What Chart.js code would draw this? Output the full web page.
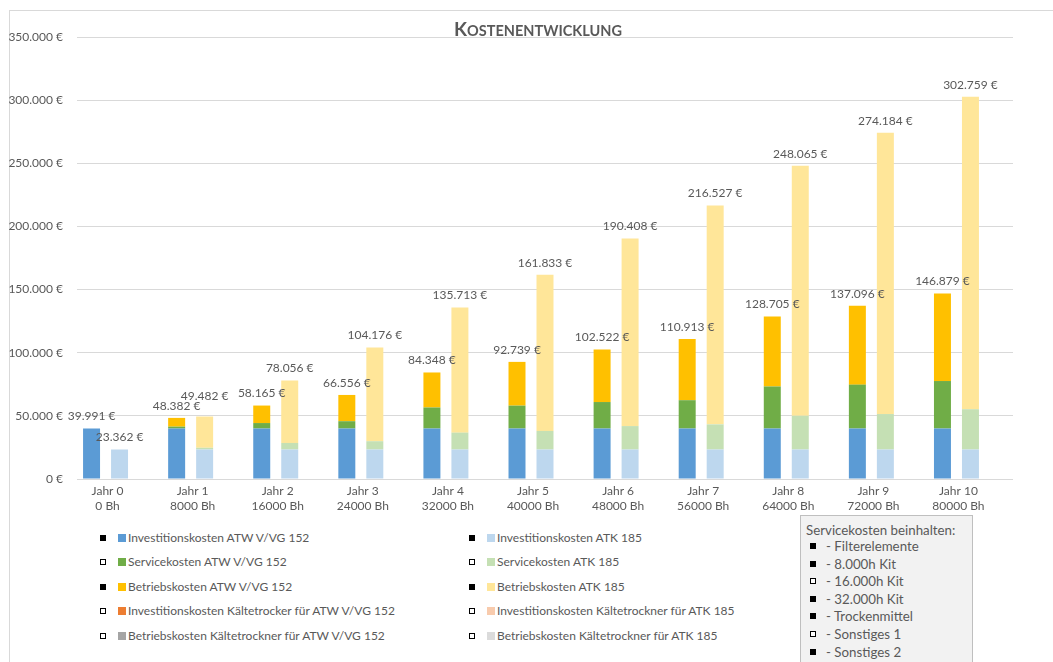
<!DOCTYPE html>
<html lang="de">
<head>
<meta charset="utf-8">
<title>Kostenentwicklung</title>
<script src="https://cdn.jsdelivr.net/npm/chart.js@4.4.1/dist/chart.umd.min.js"></script>
<style>
  body { margin: 0; background: #fff; font-family: Lato, 'Noto Sans', sans-serif; color: #595959; }
  #page { position: relative; width: 1053px; height: 662px; overflow: hidden; }
  #frame { position: absolute; left: 9px; top: 10px; width: 1060px; height: 670px; border-left: 1px solid #d9d9d9; border-top: 1px solid #d9d9d9; }
  #chartBox { position: absolute; left: 0; top: 0; width: 1053px; height: 522px; }
  .item { position: absolute; height: 18px; line-height: 18px; white-space: nowrap; font-size: 12px; }
  .glyph { position: absolute; top: 6px; width: 4px; height: 4px; border: 1px solid #000; background: #fff; }
  .glyph.fill { background: #000; box-shadow: inset 0 0 0 1px #000; }
  .swatch { position: absolute; top: 5px; width: 8px; height: 8px; }
  #serviceBox { position: absolute; left: 800px; top: 515px; width: 173px; height: 160px; background: #f2f2f2; border: 1px solid #bfbfbf; box-sizing: border-box; }
  #serviceBox .head { position: absolute; left: 5px; top: 5px; font-size: 13.3px; line-height: 18px; white-space: nowrap; }
  #serviceBox .row { position: absolute; left: 9px; font-size: 13.3px; line-height: 18px; white-space: nowrap; }
  #serviceBox .row .glyph { left: 0; }
  #serviceBox .row span.txt { position: absolute; left: 16px; }
</style>
</head>
<body>
<div id="page">
  <div id="frame"></div>
  <div id="chartBox"><canvas id="chart"></canvas></div>
  <div id="legend"></div>
  <div id="serviceBox"></div>
</div>
<script>
// values
const years = ['Jahr 0', 'Jahr 1', 'Jahr 2', 'Jahr 3', 'Jahr 4', 'Jahr 5', 'Jahr 6', 'Jahr 7', 'Jahr 8', 'Jahr 9', 'Jahr 10'];
const hours = ['0 Bh', '8000 Bh', '16000 Bh', '24000 Bh', '32000 Bh', '40000 Bh', '48000 Bh', '56000 Bh', '64000 Bh', '72000 Bh', '80000 Bh'];

const invAtw = [39991, 39991, 39991, 39991, 39991, 39991, 39991, 39991, 39991, 39991, 39991];
const svcAtw = [0, 1461, 4314, 5775, 16637, 18098, 20951, 22412, 33274, 34735, 37588];
const betAtw = [0, 6930, 13860, 20790, 27720, 34650, 41580, 48510, 55440, 62370, 69300];

const invAtk = [23362, 23362, 23362, 23362, 23362, 23362, 23362, 23362, 23362, 23362, 23362];
const svcAtk = [0, 1370, 5194, 6564, 13351, 14721, 18546, 19915, 26703, 28072, 31897];
const betAtk = [0, 24750, 49500, 74250, 99000, 123750, 148500, 173250, 198000, 222750, 247500];

// Kältetrockner series are empty in the reference
const invKtAtw = [0, 0, 0, 0, 0, 0, 0, 0, 0, 0, 0];
const betKtAtw = [0, 0, 0, 0, 0, 0, 0, 0, 0, 0, 0];
const invKtAtk = [0, 0, 0, 0, 0, 0, 0, 0, 0, 0, 0];
const betKtAtk = [0, 0, 0, 0, 0, 0, 0, 0, 0, 0, 0];

const serviceItems = ['- Filterelemente', '- 8.000h Kit', '- 16.000h Kit', '- 32.000h Kit', '- Trockenmittel', '- Sonstiges 1', '- Sonstiges 2'];

const textColor = '#595959';
const fontFamily = "Lato, 'Noto Sans', sans-serif";

const euro = (v) => String(Math.round(v)).replace(/\B(?=(\d{3})+(?!\d))/g, '.') + ' €';

const mk = (label, data, color, stack) => ({
  label, data, backgroundColor: color, stack,
  borderWidth: 0, barPercentage: 0.607, categoryPercentage: 0.987,
});

const datasets = [
  mk('Investitionskosten ATW V/VG 152', invAtw, '#5B9BD5', 'atw'),
  mk('Servicekosten ATW V/VG 152', svcAtw, '#70AD47', 'atw'),
  mk('Betriebskosten ATW V/VG 152', betAtw, '#FFC000', 'atw'),
  mk('Investitionskosten ATK 185', invAtk, '#BDD7EE', 'atk'),
  mk('Servicekosten ATK 185', svcAtk, '#C5E0B4', 'atk'),
  mk('Betriebskosten ATK 185', betAtk, '#FFE699', 'atk'),
  mk('Investitionskosten Kältetrocker für ATW V/VG 152', invKtAtw, '#ED7D31', 'kt'),
  mk('Betriebskosten Kältetrockner für ATW V/VG 152', betKtAtw, '#A5A5A5', 'kt'),
  mk('Investitionskosten Kältetrockner für ATK 185', invKtAtk, '#F8CBAD', 'kt'),
  mk('Betriebskosten Kältetrockner für ATK 185', betKtAtk, '#DBDBDB', 'kt'),
];

// total on top of each ATW / ATK stack
const totalsPlugin = {
  id: 'totals',
  afterDatasetsDraw(chart) {
    const ctx = chart.ctx;
    ctx.save();
    ctx.font = '12px ' + fontFamily;
    ctx.fillStyle = textColor;
    ctx.textAlign = 'center';
    ctx.textBaseline = 'middle';
    years.forEach((_, j) => {
      const placed = [];
      ['atw', 'atk'].forEach((stack) => {
        const idx = chart.data.datasets.map((d, i) => (d.stack === stack ? i : -1)).filter((i) => i >= 0);
        const total = idx.reduce((s, i) => s + chart.data.datasets[i].data[j], 0);
        if (!total) return;
        let top = Infinity, x = 0;
        idx.forEach((i) => {
          const el = chart.getDatasetMeta(i).data[j];
          if (chart.data.datasets[i].data[j] && el.y < top) { top = el.y; x = el.x; }
        });
        const text = euro(total);
        const w = ctx.measureText(text).width;
        let y = top - 12;
        // push a label up when it would collide with its neighbour
        placed.forEach((p) => {
          if (Math.abs(p.x - x) < (p.w + w) / 2 && Math.abs(p.y - y) < 12) y = p.y - 10;
        });
        placed.push({ x, y, w });
        ctx.fillText(text, x, y);
      });
    });
    ctx.restore();
  },
};

// small caps title like the Excel original
const titlePlugin = {
  id: 'smallCapsTitle',
  afterDraw(chart) {
    const ctx = chart.ctx;
    ctx.save();
    ctx.fillStyle = textColor;
    ctx.textBaseline = 'alphabetic';
    const big = 'bold 19px ' + fontFamily, small = 'bold 14.5px ' + fontFamily;
    ctx.font = big; const w1 = ctx.measureText('K').width;
    ctx.font = small; const w2 = ctx.measureText('OSTENENTWICKLUNG').width;
    const x0 = 538 - (w1 + w2) / 2;
    ctx.textAlign = 'left';
    ctx.font = big; ctx.fillText('K', x0, 36);
    ctx.font = small; ctx.fillText('OSTENENTWICKLUNG', x0 + w1, 36);
    ctx.restore();
  },
};

const chart = new Chart(document.getElementById('chart'), {
  type: 'bar',
  data: {
    labels: years.map((y, i) => [y, hours[i]]),
    datasets,
  },
  options: {
    responsive: true,
    maintainAspectRatio: false,
    animation: false,
    layout: { padding: { left: 9, right: 40, top: 37, bottom: 0 } },
    plugins: {
      legend: { display: false },
      title: { display: false },
      tooltip: { enabled: false },
    },
    scales: {
      x: {
        stacked: true,
        grid: { display: false, drawTicks: false },
        border: { display: false },
        ticks: {
          color: textColor, font: { family: fontFamily, size: 12, lineHeight: 1.25 },
          padding: 5, labelOffset: -12, maxRotation: 0, autoSkip: false,
        },
        afterFit: (s) => { s.height = 43; },
      },
      y: {
        stacked: true,
        min: 0,
        max: 350000,
        grid: { color: '#d9d9d9', drawTicks: false },
        border: { display: false },
        ticks: {
          stepSize: 50000, color: textColor, padding: 14,
          font: { family: fontFamily, size: 12 },
          callback: (v) => euro(v),
        },
        afterFit: (s) => { s.width = 68; },
      },
    },
  },
  plugins: [totalsPlugin, titlePlugin],
});

// legend in two columns, built from the chart's datasets
const legendCols = [[0, 1, 2, 6, 7], [3, 4, 5, 8, 9]];
const legendX = [100, 469];
const glyphKinds = ['fill', '', 'fill', '', ''];
const legendEl = document.getElementById('legend');
legendCols.forEach((col, c) => {
  col.forEach((di, r) => {
    const ds = chart.data.datasets[di];
    const item = document.createElement('div');
    item.className = 'item';
    item.style.left = legendX[c] + 'px';
    item.style.top = (529 + r * 24.4) + 'px';
    item.innerHTML =
      '<span class="glyph ' + glyphKinds[r] + '" style="left:0"></span>' +
      '<span class="swatch" style="left:18px;background:' + ds.backgroundColor + '"></span>' +
      '<span style="position:absolute;left:28px">' + ds.label + '</span>';
    legendEl.appendChild(item);
  });
});

const box = document.getElementById('serviceBox');
box.innerHTML = '<div class="head">Servicekosten beinhalten:</div>';
serviceItems.forEach((t, i) => {
  const row = document.createElement('div');
  row.className = 'row';
  row.style.top = (21 + i * 17.6) + 'px';
  row.innerHTML = '<span class="glyph ' + (i % 3 === 2 ? '' : 'fill') + '"></span><span class="txt">' + t + '</span>';
  box.appendChild(row);
});
</script>
</body>
</html>
